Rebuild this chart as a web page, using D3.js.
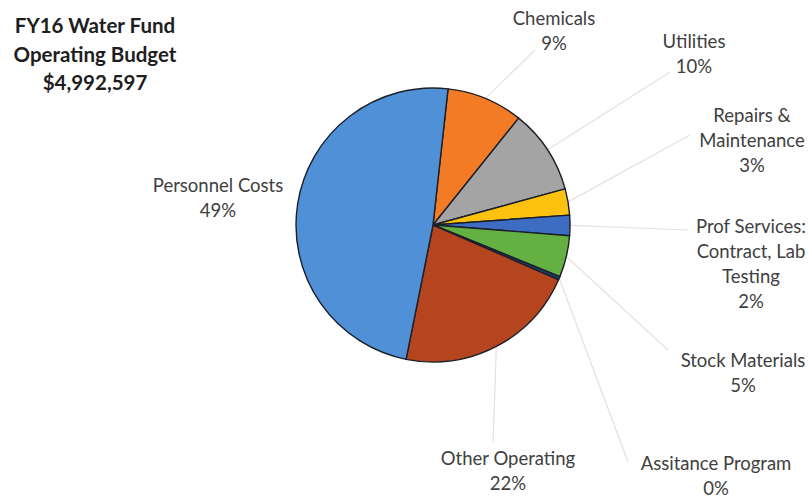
<!DOCTYPE html>
<html>
<head>
<meta charset="utf-8">
<script src="https://cdn.jsdelivr.net/npm/d3@7"></script>
<style>
  html, body { margin: 0; padding: 0; background: #fff; }
  svg { display: block; }
</style>
</head>
<body>
<svg id="chart" width="809" height="498"></svg>
<script>
// ---- data ----
const categories = ["Chemicals", "Utilities", "Repairs & Maintenance", "Prof Services: Contract, Lab Testing",
                    "Stock Materials", "Assitance Program", "Other Operating", "Personnel Costs"];
const shares = [9.0, 10.0, 3.1, 2.4, 4.9, 0.4, 21.6, 48.6];   // percent of budget
const titleLines = ["FY16 Water Fund", "Operating Budget", "$4,992,597"];

// ---- layout / style ----
const colors = ["#f47b25", "#a4a4a4", "#fcc20f", "#3d6dc3", "#64b043", "#1f3a68", "#b4451e", "#4f90d6"];
const labelLines = [["Chemicals"], ["Utilities"], ["Repairs &", "Maintenance"],
                    ["Prof Services:", "Contract, Lab", "Testing"], ["Stock Materials"],
                    ["Assitance Program"], ["Other Operating"], ["Personnel Costs"]];
const labelPos = [[554, 25], [694, 48], [752, 122], [751, 233], [743, 367], [716, 470], [508, 465], [218, 192]];
const leaderEnd = [[535, 50], [670, 72], [690, 135], [688, 230], [668, 350], [628, 462], [493, 443], null];

const svg = d3.select("#chart");
const cx = 433, cy = 225, R = 137;
const lineH = 25;

const start = 6.3 * Math.PI / 180;
const pie = d3.pie().sort(null).value(d => d).startAngle(start).endAngle(start + 2 * Math.PI);
const arcs = pie(shares);
const arc = d3.arc().innerRadius(0).outerRadius(R);

const g = svg.append("g").attr("transform", `translate(${cx},${cy})`);

// leader lines
arcs.forEach((a, i) => {
  if (!leaderEnd[i]) return;
  const mid = (a.startAngle + a.endAngle) / 2;
  const x0 = cx + R * Math.sin(mid), y0 = cy - R * Math.cos(mid);
  svg.insert("line", "g")
    .attr("x1", x0).attr("y1", y0)
    .attr("x2", leaderEnd[i][0]).attr("y2", leaderEnd[i][1])
    .attr("stroke", "#e2e2e2").attr("stroke-width", 1.2);
});

g.selectAll("path").data(arcs).join("path")
  .attr("d", arc)
  .attr("fill", (d, i) => colors[i])
  .attr("stroke", "#1b1f2a")
  .attr("stroke-width", 1.4)
  .attr("stroke-linejoin", "round");

// labels
const fmt = v => Math.round(v) + "%";
categories.forEach((c, i) => {
  const t = svg.append("text")
    .attr("x", labelPos[i][0]).attr("y", labelPos[i][1])
    .attr("text-anchor", "middle")
    .attr("font-family", "Lato, 'Liberation Sans', sans-serif")
    .attr("font-size", 18.5)
    .attr("fill", "#404040");
  const lines = labelLines[i].concat([fmt(shares[i])]);
  lines.forEach((l, j) => {
    t.append("tspan").attr("x", labelPos[i][0]).attr("dy", j === 0 ? 0 : lineH).text(l);
  });
});

// title
const tt = svg.append("text")
  .attr("x", 95).attr("y", 33)
  .attr("text-anchor", "middle")
  .attr("font-family", "Lato, 'Liberation Sans', sans-serif")
  .attr("font-weight", "bold")
  .attr("font-size", 20.5)
  .attr("fill", "#1e1e1e");
titleLines.forEach((l, j) => {
  tt.append("tspan").attr("x", 95).attr("dy", j === 0 ? 0 : 28.7).text(l);
});
</script>
</body>
</html>
